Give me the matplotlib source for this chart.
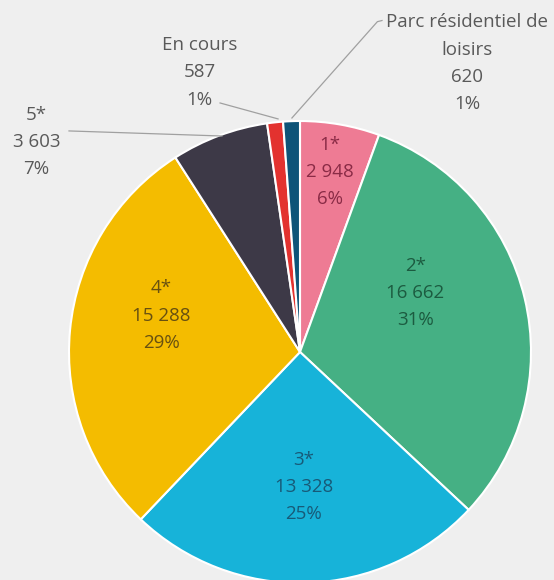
import matplotlib
matplotlib.use("Agg")
import matplotlib.pyplot as plt

# ── Data ──────────────────────────────────────────────────────────────────────
categories = ["1*", "2*", "3*", "4*", "5*", "En cours", "Parc résidentiel de\nloisirs"]
values     = [2948, 16662, 13328, 15288, 3603, 587, 620]

colors      = ["#EE7B94", "#45B084", "#17B3D9", "#F4BC00", "#3D3947", "#E3322F", "#0E5478"]
text_colors = ["#8A2B46", "#1C5B40", "#175A78", "#675011", "#595959", "#595959", "#595959"]

label_pos = [(0.13, 0.78), (0.50, 0.255), (0.017, -0.585), (-0.60, 0.157),
             (-1.14, 0.91), (-0.435, 1.21), (0.725, 1.25)]

# leader lines for the outside labels
leaders = {
    4: [(-1.00, 0.957), (-0.338, 0.935)],
    5: [(-0.346, 1.078), (-0.095, 1.009)],
    6: [(0.355, 1.435), (0.335, 1.43), (-0.035, 1.013)],
}

W, H = 554, 580
R_PX = 231          # pie radius in pixels
CX, CY = 300, 352   # pie centre in pixels (from top-left)

plt.rcParams["font.family"] = ["Open Sans", "DejaVu Sans"]

fig = plt.figure(figsize=(W / 100, H / 100), dpi=100, facecolor="#EFEFEF")
ax = fig.add_axes([0, 0, 1, 1])
ax.set_facecolor("#EFEFEF")

ax.pie(values, colors=colors, startangle=90, counterclock=False, radius=1,
       wedgeprops=dict(edgecolor="white", linewidth=1.5))

total = sum(values)
for i, (cat, v) in enumerate(zip(categories, values)):
    pct = round(v / total * 100)
    txt = f"{cat}\n{v:,}".replace(",", " ") + f"\n{pct}%"
    x, y = label_pos[i]
    ax.text(x, y, txt, ha="center", va="center", fontsize=13.5,
            color=text_colors[i], linespacing=1.66)

for pts in leaders.values():
    xs, ys = zip(*pts)
    ax.plot(xs, ys, color="#A0A0A0", lw=0.9)

ax.set_xlim(-CX / R_PX, (W - CX) / R_PX)
ax.set_ylim(-(H - CY) / R_PX, CY / R_PX)
ax.axis("off")

fig.savefig("out.png", dpi=100, facecolor=fig.get_facecolor())
